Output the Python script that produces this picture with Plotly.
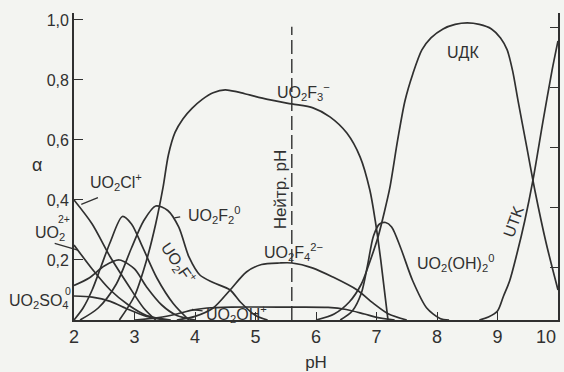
import plotly.graph_objects as go

# Uranyl speciation: fraction alpha of each species vs pH
ph_cl = [2.0, 2.3, 2.6, 2.9, 3.15, 3.35]
a_cl = [0.40, 0.32, 0.21, 0.115, 0.04, 0.0]

ph_u = [2.0, 2.3, 2.6, 2.9, 3.2, 3.6]
a_u = [0.25, 0.17, 0.10, 0.05, 0.015, 0.0]

ph_f1 = [2.0, 2.15, 2.3, 2.45, 2.6, 2.8, 2.95, 3.14, 3.37, 3.64, 3.9]
a_f1 = [0.0, 0.04, 0.10, 0.18, 0.26, 0.345, 0.32, 0.24, 0.14, 0.055, 0.0]

ph_s = [2.0, 2.25, 2.5, 2.75, 3.0, 3.2, 3.45, 3.7, 4.0]
a_s = [0.115, 0.14, 0.18, 0.20, 0.17, 0.11, 0.05, 0.015, 0.0]

ph_so4 = [2.0, 2.3, 2.6, 2.9, 3.2, 3.5]
a_so4 = [0.08, 0.076, 0.062, 0.035, 0.012, 0.0]

ph_f2 = [2.1, 2.4, 2.7, 2.95, 3.15, 3.35, 3.55, 3.73, 3.9, 4.08, 4.3, 4.58, 4.75, 5.0, 5.2]
a_f2 = [0.0, 0.04, 0.12, 0.24, 0.33, 0.38, 0.365, 0.31, 0.21, 0.15, 0.125, 0.10, 0.06, 0.015, 0.0]

ph_f3 = [2.75, 3.0, 3.2, 3.35, 3.47, 3.56, 3.67, 3.8, 3.95, 4.12, 4.3, 4.5, 4.7, 4.9, 5.2,
         5.6, 5.95, 6.23, 6.51, 6.73, 6.89, 6.98, 7.07, 7.19]
a_f3 = [0.0, 0.08, 0.2, 0.32, 0.44, 0.55, 0.625, 0.67, 0.705, 0.735, 0.757, 0.767, 0.76, 0.75,
        0.735, 0.72, 0.707, 0.677, 0.623, 0.543, 0.433, 0.33, 0.2, 0.0]

ph_f4 = [3.7, 4.0, 4.3, 4.58, 4.85, 5.1, 5.4, 5.6, 5.95, 6.28, 6.68, 6.94, 7.2, 7.5]
a_f4 = [0.0, 0.012, 0.04, 0.10, 0.16, 0.185, 0.19, 0.19, 0.173, 0.143, 0.10, 0.057, 0.02, 0.0]

ph_oh = [3.0, 3.4, 3.7, 3.95, 4.2, 4.6, 5.5, 6.2, 6.5, 6.8, 7.05, 7.3]
a_oh = [0.0, 0.008, 0.02, 0.033, 0.04, 0.043, 0.043, 0.042, 0.035, 0.02, 0.007, 0.0]

ph_oh2 = [6.4, 6.6, 6.75, 6.85, 6.95, 7.05, 7.15, 7.25, 7.4, 7.6, 7.83, 8.05, 8.2]
a_oh2 = [0.0, 0.03, 0.09, 0.18, 0.28, 0.32, 0.325, 0.31, 0.24, 0.13, 0.04, 0.005, 0.0]

ph_udk = [6.0, 6.3, 6.55, 6.75, 6.9, 7.03, 7.13, 7.22, 7.35, 7.47, 7.6, 7.75, 7.9, 8.1, 8.3,
          8.5, 8.7, 8.9, 9.05, 9.16, 9.25, 9.34, 9.48, 9.62, 9.8, 10.0]
a_udk = [0.0, 0.02, 0.06, 0.12, 0.20, 0.28, 0.36, 0.44, 0.60, 0.73, 0.82, 0.90, 0.94, 0.97,
         0.985, 0.99, 0.985, 0.97, 0.94, 0.90, 0.83, 0.73, 0.58, 0.43, 0.26, 0.10]

ph_utk = [8.7, 8.85, 9.0, 9.1, 9.2, 9.32, 9.45, 9.59, 9.75, 9.9, 10.0]
a_utk = [0.0, 0.01, 0.03, 0.08, 0.13, 0.22, 0.33, 0.47, 0.66, 0.83, 0.93]

NEUTRAL_PH = 5.6
x_ticks = [2, 3, 4, 5, 6, 7, 8, 9, 10]
x_tick_text = ["2", "3", "4", "5", "6", "7", "8", "9", ""]  # "10" is set flush right below
y_ticks = [0.2, 0.4, 0.6, 0.8, 1.0]
y_tick_text = ["0,2", "0,4", "0,6", "0,8", "1,0"]

INK = "#303030"
FONT = "Liberation Sans"

curves = [
    (ph_cl, a_cl), (ph_u, a_u), (ph_f1, a_f1), (ph_s, a_s), (ph_so4, a_so4),
    (ph_f2, a_f2), (ph_f3, a_f3), (ph_f4, a_f4), (ph_oh, a_oh), (ph_oh2, a_oh2),
    (ph_udk, a_udk), (ph_utk, a_utk),
]

fig = go.Figure()
for xs, ys in curves:
    fig.add_trace(go.Scatter(x=xs, y=ys, mode="lines",
                             line=dict(color=INK, width=1.7, shape="spline", smoothing=0.8),
                             hoverinfo="skip", showlegend=False))

# invisible trace so the right-hand frame axis is drawn
fig.add_trace(go.Scatter(x=[2], y=[0.5], yaxis="y2", mode="markers",
                         marker=dict(opacity=0), showlegend=False, hoverinfo="skip"))

# neutral pH marker
fig.add_shape(type="line", x0=NEUTRAL_PH, x1=NEUTRAL_PH, y0=0, y1=0.977,
              xref="x", yref="y", line=dict(color=INK, width=1.4, dash="14px,5px"))


def refs(dom):
    return ("x domain", "y domain") if dom else ("x", "y")


def label(text, x, y, size=16, angle=0, xanchor="center", dom=False):
    xr, yr = refs(dom)
    fig.add_annotation(text=text, x=x, y=y, xref=xr, yref=yr,
                       showarrow=False, textangle=angle, xanchor=xanchor, yanchor="middle",
                       font=dict(family=FONT, size=size, color=INK))


def leader(x, y, ax, ay, dom=False):
    xr, yr = refs(dom)
    fig.add_annotation(text="", x=x, y=y, ax=ax, ay=ay, xref=xr, yref=yr,
                       axref=xr, ayref=yr, showarrow=True, arrowhead=0,
                       arrowwidth=1.3, arrowcolor=INK)


label("UO<sub>2</sub>Cl<sup>+</sup>", 2.69, 0.46)
leader(2.12, 0.385, 2.42, 0.41)
label("UO<sub>2</sub>", -0.05, 0.283, dom=True)
label("<sup>2+</sup>", -0.021, 0.329, size=15, dom=True)
leader(0.008, 0.228, -0.043, 0.251, dom=True)
label("UO<sub>2</sub>SO<sub>4</sub>", -0.072, 0.06, dom=True)
label("<sup>0</sup>", -0.012, 0.094, size=15, dom=True)
label("α", -0.076, 0.505, size=18, dom=True)
label("UO<sub>2</sub>F<sub>2</sub><sup>0</sup>", 4.32, 0.35)
leader(3.66, 0.34, 3.78, 0.345)
label("UO<sub>2</sub>F<sup>+</sup>", 3.72, 0.19, angle=55)
label("UO<sub>2</sub>OH<sup>+</sup>", 4.69, 0.02)
leader(3.95, 0.035, 4.15, 0.03)
label("UO<sub>2</sub>F<sub>4</sub><sup>2−</sup>", 5.62, 0.225)
label("UO<sub>2</sub>F<sub>3</sub><sup>−</sup>", 5.8, 0.76)
label("Нейтр. pH", 5.42, 0.435, size=17, angle=-90)
label("UДК", 8.43, 0.893)
label("UO<sub>2</sub>(OH)<sub>2</sub><sup>0</sup>", 8.3, 0.19)
label("UTK", 9.27, 0.327, angle=-70)

# last pH tick label, kept inside the page edge
fig.add_annotation(text="10", x=1.0, y=-0.055, xref="paper", yref="y domain",
                   xanchor="right", yanchor="middle", showarrow=False,
                   font=dict(family=FONT, size=18, color=INK))

fig.update_layout(
    width=564, height=372,
    margin=dict(l=74, r=6, t=13, b=52),
    paper_bgcolor="#f3f4f1", plot_bgcolor="rgba(0,0,0,0)",
    font=dict(family=FONT, color=INK),
    xaxis=dict(range=[2, 10], tickvals=x_ticks, ticktext=x_tick_text, ticks="inside",
               ticklen=8, tickwidth=1.3, tickcolor=INK, showline=True, linecolor=INK,
               linewidth=1.7, showgrid=False, zeroline=False,
               tickfont=dict(size=18, color=INK), automargin=False,
               title=dict(text="pH", font=dict(size=17, color=INK), standoff=14)),
    yaxis=dict(range=[0, 1.023], tickvals=y_ticks, ticktext=y_tick_text, ticks="inside",
               ticklen=9, tickwidth=1.3, tickcolor=INK, showline=True, linecolor=INK,
               linewidth=1.7, showgrid=False, zeroline=False, automargin=False,
               tickfont=dict(size=16, color=INK)),
    yaxis2=dict(range=[0.0237, 1.0467], overlaying="y", side="right", tickvals=y_ticks,
                ticks="inside", ticklen=8, tickwidth=1.3, tickcolor=INK, showline=True,
                linecolor=INK, linewidth=1.7, showgrid=False, zeroline=False,
                showticklabels=False, automargin=False),
)

fig.write_html("out.html")
